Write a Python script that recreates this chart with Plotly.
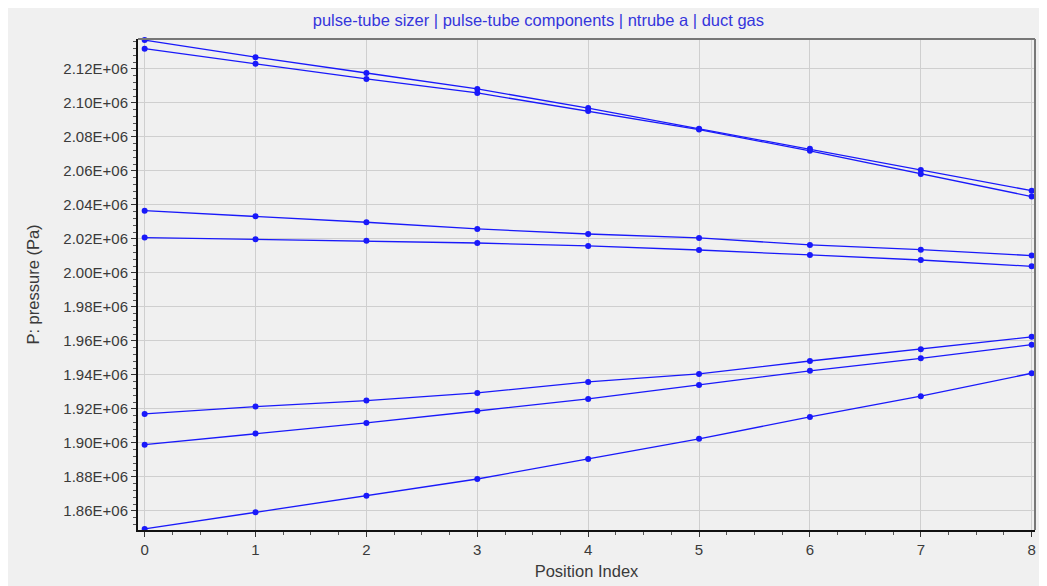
import plotly.graph_objects as go

positions = [0, 1, 2, 3, 4, 5, 6, 7, 8]

series_1 = [2.1370e6, 2.1269e6, 2.1176e6, 2.1082e6, 2.0970e6, 2.0848e6, 2.0730e6, 2.0606e6, 2.0484e6]
series_2 = [2.1319e6, 2.1231e6, 2.1141e6, 2.1059e6, 2.0953e6, 2.0843e6, 2.0718e6, 2.0582e6, 2.0449e6]
series_3 = [2.0366e6, 2.0334e6, 2.0298e6, 2.0259e6, 2.0229e6, 2.0206e6, 2.0165e6, 2.0137e6, 2.0102e6]
series_4 = [2.0208e6, 2.0198e6, 2.0190e6, 2.0176e6, 2.0159e6, 2.0135e6, 2.0106e6, 2.0076e6, 2.0039e6]
series_5 = [1.9171e6, 1.9214e6, 1.9249e6, 1.9294e6, 1.9359e6, 1.9406e6, 1.9482e6, 1.9551e6, 1.9624e6]
series_6 = [1.8990e6, 1.9055e6, 1.9118e6, 1.9188e6, 1.9259e6, 1.9341e6, 1.9424e6, 1.9498e6, 1.9578e6]
series_7 = [1.8494e6, 1.8592e6, 1.8690e6, 1.8788e6, 1.8906e6, 1.9024e6, 1.9153e6, 1.9275e6, 1.9410e6]

all_series = [series_1, series_2, series_3, series_4, series_5, series_6, series_7]

y_ticks = [1.86e6 + 0.02e6 * i for i in range(14)]
y_tick_labels = ["%.2fE+06" % (v / 1e6) for v in y_ticks]

title_text = "pulse-tube sizer | pulse-tube components | ntrube a | duct gas"
x_title = "Position Index"
y_title = "P: pressure (Pa)"

BLUE = "rgb(25,25,250)"
BG = "#f0f0f0"
FONT = "Liberation Sans"
TXT = "#3a3a3a"

fig = go.Figure()
for s in all_series:
    fig.add_trace(go.Scatter(
        x=positions, y=s, mode="lines+markers",
        line=dict(color=BLUE, width=1.3),
        marker=dict(color=BLUE, size=6),
        showlegend=False, cliponaxis=False,
    ))

# page body has an 8px margin; figure sized to fill the remaining window
fig.update_layout(
    width=1039, height=578,
    margin=dict(l=130, r=12, t=31, b=56),
    paper_bgcolor=BG, plot_bgcolor=BG,
    font=dict(family=FONT, size=15, color=TXT),
    title=dict(text=title_text, x=0.5105, xanchor="center", y=0.979, yanchor="middle",
               font=dict(family=FONT, size=16.5, color="#3535dc")),
    xaxis=dict(
        range=[-0.06, 8.03], tickmode="array", tickvals=positions,
        ticktext=[str(p) for p in positions], automargin=False,
        showgrid=True, gridcolor="#cfcfcf", gridwidth=1,
        zeroline=False, showline=True, linecolor="#111111", linewidth=2,
        ticks="outside", ticklen=5, tickcolor="#333333",
        minor=dict(ticks="outside", ticklen=3, dtick=0.25, tickcolor="#555555", showgrid=False),
        title=dict(text=x_title, standoff=8, font=dict(family=FONT, size=16.5, color=TXT)),
        tickfont=dict(family=FONT, size=15, color=TXT),
    ),
    yaxis=dict(
        range=[1.8488e6, 2.1376e6], tickmode="array", tickvals=y_ticks, ticktext=y_tick_labels,
        automargin=False,
        showgrid=True, gridcolor="#cfcfcf", gridwidth=1,
        zeroline=False, showline=True, linecolor="#111111", linewidth=2,
        ticks="outside", ticklen=5, tickcolor="#333333",
        minor=dict(ticks="outside", ticklen=3, dtick=4000, tickcolor="#555555", showgrid=False),
        title=dict(text=y_title, standoff=20, font=dict(family=FONT, size=16.5, color=TXT)),
        tickfont=dict(family=FONT, size=15, color=TXT),
    ),
)

fig.add_shape(type="line", xref="x domain", yref="y domain", x0=0, x1=1, y0=1, y1=1,
              line=dict(color="#777777", width=2))
fig.add_shape(type="line", xref="x domain", yref="y domain", x0=1, x1=1, y0=0, y1=1,
              line=dict(color="#777777", width=2))

fig.write_html("out.html")
